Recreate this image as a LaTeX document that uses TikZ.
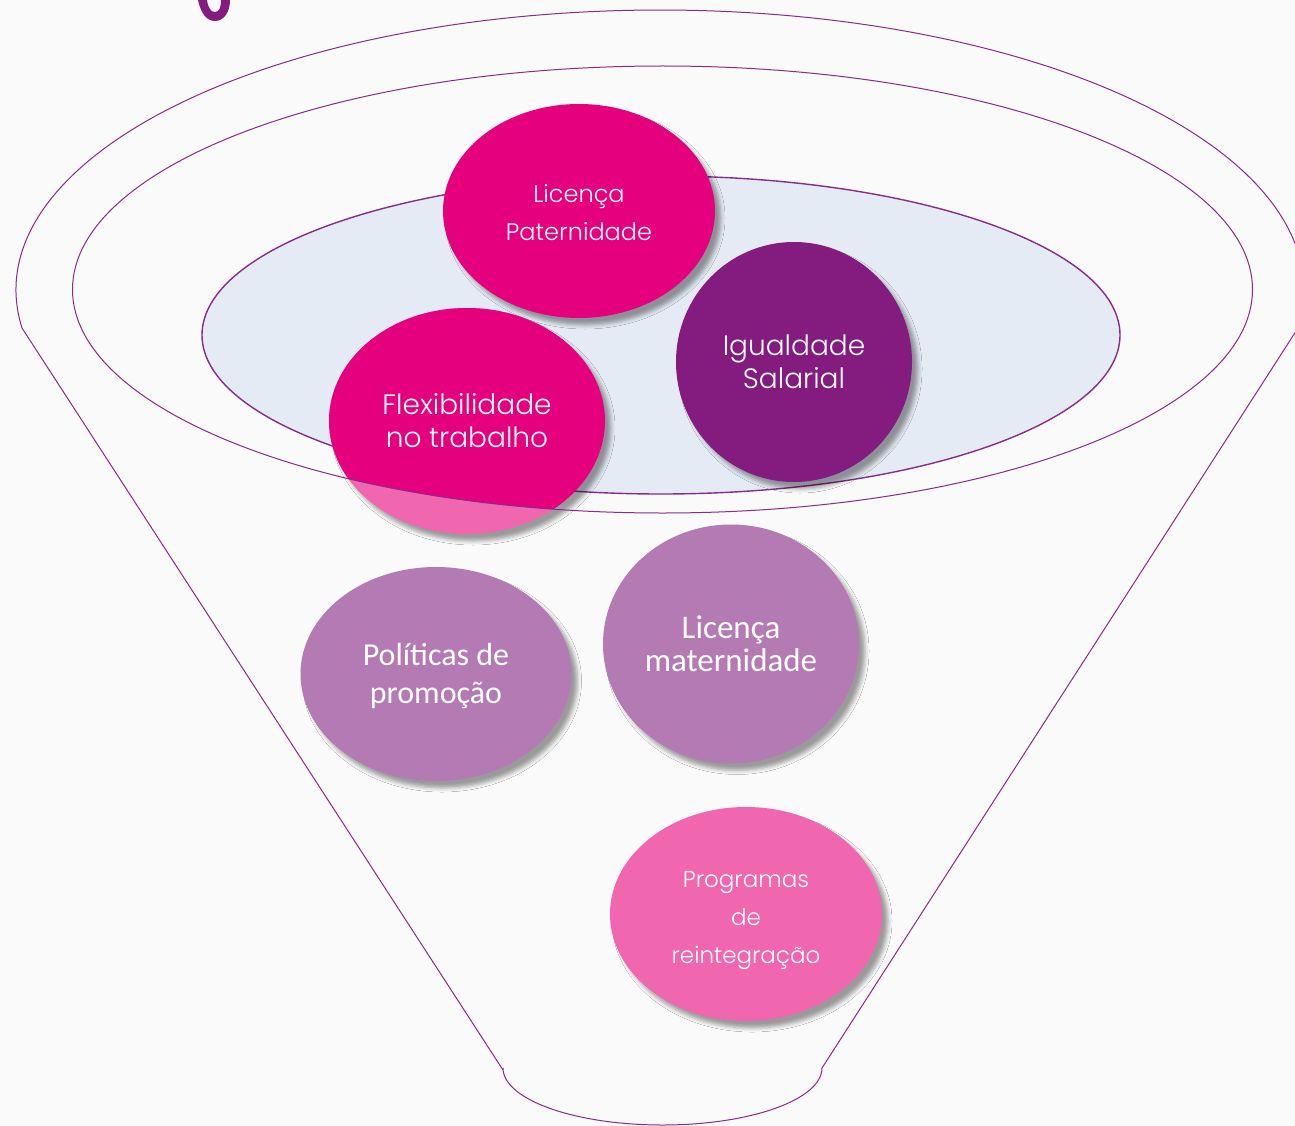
\documentclass[tikz,border=0pt]{standalone}
\usepackage{fontspec}
\usetikzlibrary{shapes.geometric,shadows.blur}
\newfontfamily\rndfont{Poppins Light}
\newfontfamily\calfont{Carlito}
\definecolor{dpink}{HTML}{E5007D}
\definecolor{dpurple}{HTML}{841C80}
\definecolor{mauve}{HTML}{B37AB4}
\definecolor{lpink}{HTML}{F066AF}
\definecolor{innerblue}{HTML}{E4EBF5}
\definecolor{linepurple}{HTML}{8A2A89}
\definecolor{bggray}{HTML}{FAFAFA}
\tikzset{
  rim/.style={draw=linepurple, line width=1pt},
  bubble/.style={ellipse, inner sep=0pt, blur shadow={shadow xshift=6pt, shadow yshift=-7pt, shadow blur radius=4pt, shadow opacity=38}},
  rtxt/.style 2 args={text=white, align=center, font=\rndfont\fontsize{#1}{#2}\selectfont},
  ctxt/.style 2 args={text=white, align=center, font=\calfont\fontsize{#1}{#2}\selectfont},
}
\begin{document}
\begin{tikzpicture}[x=1pt,y=-1pt]
\fill[bggray] (0,0) rectangle (1295,1126);
\useasboundingbox (0,0) rectangle (1295,1126);
% fragment of a title letter at the top
\fill[dpurple] (198,0) .. controls (201,14) and (207,21) .. (215,21) .. controls (224,21) and (230,12) .. (230,0) -- (221,0) .. controls (221,8) and (219,12) .. (215,12) .. controls (211,12) and (208,8) .. (207,0) -- cycle;
% funnel outline
\draw[rim] (503,1070) -- (22,328) arc[start angle=172.2, end angle=367.8, x radius=644, y radius=280] -- (822,1068) arc[start angle=0, end angle=180, x radius=159.5, y radius=57];
% inner ellipse
\draw[draw=linepurple, line width=1.4pt, fill=innerblue] (661,335) ellipse [x radius=459, y radius=159];
% bubbles
\node[bubble, fill=dpink, minimum width=272pt, minimum height=214pt] (pat) at (579,211) {};
\node[rtxt={24}{38}, yshift=-2pt] at (pat.center) {Licença\\Paternidade};
\node[bubble, fill=dpurple, minimum width=236pt, minimum height=240pt] (igu) at (794,362) {};
\node[rtxt={28}{33}] at (igu.center) {Igualdade\\Salarial};
\node[bubble, fill=lpink, minimum width=276pt, minimum height=226pt] (flex) at (467,421) {};
\begin{scope}
  \clip (662.5,289.5) ellipse [x radius=590, y radius=223.5];
  \fill[dpink] (flex.center) ellipse [x radius=138, y radius=113];
\end{scope}
\node[rtxt={28}{33}] at (flex.center) {Flexibilidade\\no trabalho};
\node[bubble, fill=mauve, minimum width=271pt, minimum height=214pt] (pol) at (436,674) {};
\node[ctxt={32}{38}, yshift=-2pt] at (pol.center) {Políticas de\\promoção};
\node[bubble, fill=mauve, minimum width=256pt, minimum height=239pt] (mat) at (731,644) {};
\node[ctxt={33}{33}] at (mat.center) {Licença\\maternidade};
\node[bubble, fill=lpink, minimum width=272pt, minimum height=214pt] (reint) at (746,914) {};
\node[rtxt={23}{38}, yshift=-7pt] at (reint.center) {Programas\\de\\reintegração};
% middle ellipse (drawn over)
\draw[rim] (662.5,289.5) ellipse [x radius=590, y radius=223.5];
\end{tikzpicture}
\end{document}
